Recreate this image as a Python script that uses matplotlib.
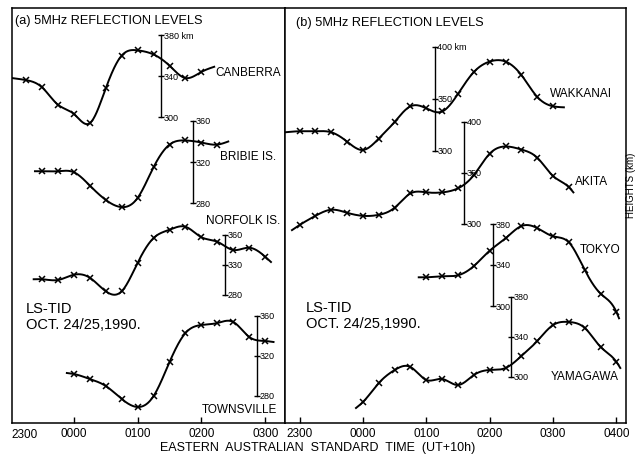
import numpy as np
import matplotlib
matplotlib.use('Agg')
import matplotlib.pyplot as plt

plt.rcParams['font.family'] = ['Liberation Sans', 'DejaVu Sans']

# times are hours after 0000 EAST (23:00 = -1)
# --- panel (a) ---
canberra_t = [-0.75, -0.5, -0.25, 0.0, 0.25, 0.5, 0.75, 1.0, 1.25, 1.5, 1.75, 2.0]
canberra_h = [336, 329, 312, 303, 294, 328, 360, 365, 361, 350, 338, 344]
canberra_ends = [(-0.97, 338), (2.2, 349)]

bribie_t = [-0.5, -0.25, 0.0, 0.25, 0.5, 0.75, 1.0, 1.25, 1.5, 1.75, 2.0, 2.25]
bribie_h = [311, 311, 310, 297, 283, 276, 285, 315, 337, 341, 339, 337]
bribie_ends = [(-0.61, 311), (2.42, 340)]

norfolk_t = [-0.5, -0.25, 0.0, 0.25, 0.5, 0.75, 1.0, 1.25, 1.5, 1.75, 2.0, 2.25, 2.5, 2.75, 3.0]
norfolk_h = [301, 300, 307, 303, 285, 285, 323, 356, 367, 371, 357, 351, 340, 343, 331]
norfolk_ends = [(-0.63, 301), (3.09, 324)]

townsville_t = [0.0, 0.25, 0.5, 0.75, 1.0, 1.25, 1.5, 1.75, 2.0, 2.25, 2.5, 2.75, 3.0]
townsville_h = [302, 297, 290, 277, 269, 280, 314, 343, 351, 353, 354, 339, 335]
townsville_ends = [(-0.11, 303), (3.13, 334)]

# --- panel (b) ---
wakkanai_t = [-1.0, -0.75, -0.5, -0.25, 0.0, 0.25, 0.5, 0.75, 1.0, 1.25, 1.5, 1.75, 2.0, 2.25, 2.5, 2.75, 3.0]
wakkanai_h = [319, 319, 318, 309, 301, 312, 328, 343, 341, 338, 355, 376, 386, 386, 373, 352, 343]
wakkanai_ends = [(-1.23, 318), (3.17, 342)]

akita_t = [-1.0, -0.75, -0.5, -0.25, 0.0, 0.25, 0.5, 0.75, 1.0, 1.25, 1.5, 1.75, 2.0, 2.25, 2.5, 2.75, 3.0, 3.25]
akita_h = [299, 308, 314, 311, 308, 309, 316, 330, 331, 331, 335, 348, 369, 376, 373, 365, 347, 336]
akita_ends = [(-1.12, 294), (3.32, 331)]

tokyo_t = [1.0, 1.25, 1.5, 1.75, 2.0, 2.25, 2.5, 2.75, 3.0, 3.25, 3.5, 3.75, 4.0]
tokyo_h = [328, 329, 330, 339, 354, 366, 378, 376, 368, 362, 335, 312, 294]
tokyo_ends = [(0.88, 328), (4.04, 288)]

yamagawa_t = [0.0, 0.25, 0.5, 0.75, 1.0, 1.25, 1.5, 1.75, 2.0, 2.25, 2.5, 2.75, 3.0, 3.25, 3.5, 3.75, 4.0]
yamagawa_h = [275, 294, 307, 310, 297, 298, 292, 302, 307, 309, 321, 336, 352, 355, 349, 330, 315]
yamagawa_ends = [(-0.11, 269), (4.06, 309)]

ticks_a = [0, 1, 2, 3]
ticklabels_a = ['0000', '0100', '0200', '0300']
ticks_b = [-1, 0, 1, 2, 3, 4]
ticklabels_b = ['2300', '0000', '0100', '0200', '0300', '0400']

W, H = 636, 456
BOT, TOP = 424, 9


def fx(x):
    return x / W


def fy(y):
    return 1 - y / H


def spline(x, y, n=500):
    # natural cubic spline through the points
    x = np.asarray(x, float)
    y = np.asarray(y, float)
    m = len(x)
    h = np.diff(x)
    A = np.zeros((m, m))
    r = np.zeros(m)
    A[0, 0] = A[-1, -1] = 1
    for i in range(1, m - 1):
        A[i, i - 1] = h[i - 1]
        A[i, i] = 2 * (h[i - 1] + h[i])
        A[i, i + 1] = h[i]
        r[i] = 6 * ((y[i + 1] - y[i]) / h[i] - (y[i] - y[i - 1]) / h[i - 1])
    M = np.linalg.solve(A, r)
    xs = np.linspace(x[0], x[-1], n)
    k = np.clip(np.searchsorted(x, xs) - 1, 0, m - 2)
    a = (x[k + 1] - xs) / h[k]
    b = (xs - x[k]) / h[k]
    ys = a * y[k] + b * y[k + 1] + ((a ** 3 - a) * M[k] + (b ** 3 - b) * M[k + 1]) * h[k] ** 2 / 6
    return xs, ys


fig = plt.figure(figsize=(W / 100, H / 100), dpi=100)
axa = fig.add_axes([fx(12), fy(BOT), fx(273), (BOT - TOP) / H])
axb = fig.add_axes([fx(285), fy(BOT), fx(341), (BOT - TOP) / H])
axa.set_xlim(-0.97, 3.31)
axb.set_xlim(-1.23, 4.15)

for ax, tk, tl in [(axa, ticks_a, ticklabels_a), (axb, ticks_b, ticklabels_b)]:
    ax.set_ylim(0, 1)
    ax.set_yticks([])
    ax.set_xticks(tk)
    ax.set_xticklabels(tl)
    ax.tick_params(axis='x', direction='in', length=4, width=1, labelsize=8.5, pad=3)
    for s in ax.spines.values():
        s.set_linewidth(1.1)
fig.text(fx(11), fy(435), '2300', fontsize=8.5, ha='left', va='center')


def station(ax, t, h, ends, bar_x, bar, labels, unit=False):
    (v_hi, p_hi), (v_lo, p_lo) = bar
    f_hi = (BOT - p_hi) / (BOT - TOP)
    f_lo = (BOT - p_lo) / (BOT - TOP)
    slope = (v_hi - v_lo) / (f_hi - f_lo)
    y0 = v_lo - f_lo * slope
    tw = ax.twinx()
    tw.set_ylim(y0, y0 + slope)
    tw.axis('off')
    xs, ys = spline([ends[0][0]] + t + [ends[1][0]], [ends[0][1]] + h + [ends[1][1]])
    tw.plot(xs, ys, color='black', lw=1.4)
    tw.plot(t, h, ls='none', marker='x', ms=4.5, mew=1.1, color='black')
    v_mid = (v_hi + v_lo) / 2
    tw.plot([bar_x, bar_x], [v_lo, v_hi], color='black', lw=1.0)
    tw.plot([bar_x] * 3, [v_lo, v_mid, v_hi], ls='none', marker='_', ms=5, mew=1.0, color='black')
    for v, lab in zip([v_hi, v_mid, v_lo], labels):
        if v == v_hi and unit:
            lab = lab + ' km'
        tw.annotate(lab, (bar_x, v), xytext=(2, 0), textcoords='offset points',
                    fontsize=6.5, va='center', ha='left')


station(axa, canberra_t, canberra_h, canberra_ends, 1.366, [(380, 36), (300, 118)], ['380', '340', '300'], True)
station(axa, bribie_t, bribie_h, bribie_ends, 1.87, [(360, 122), (280, 204)], ['360', '320', '280'])
station(axa, norfolk_t, norfolk_h, norfolk_ends, 2.37, [(360, 236), (280, 296)], ['360', '330', '280'])
station(axa, townsville_t, townsville_h, townsville_ends, 2.87, [(360, 317), (280, 397)], ['360', '320', '280'])
station(axb, wakkanai_t, wakkanai_h, wakkanai_ends, 1.13, [(400, 48), (300, 152)], ['400', '350', '300'], True)
station(axb, akita_t, akita_h, akita_ends, 1.59, [(400, 123), (300, 225)], ['400', '350', '300'])
station(axb, tokyo_t, tokyo_h, tokyo_ends, 2.05, [(380, 225), (300, 307)], ['380', '340', '300'])
station(axb, yamagawa_t, yamagawa_h, yamagawa_ends, 2.33, [(380, 298), (300, 378)], ['380', '340', '300'])

names = [('CANBERRA', 215, 73), ('BRIBIE IS.', 220, 157), ('NORFOLK IS.', 206, 221),
         ('TOWNSVILLE', 202, 410), ('WAKKANAI', 550, 94), ('AKITA', 575, 182),
         ('TOKYO', 580, 250), ('YAMAGAWA', 551, 377)]
for s, x, y in names:
    fig.text(fx(x), fy(y), s, fontsize=8.5, ha='left', va='center')

fig.text(fx(15), fy(21), '(a) 5MHz REFLECTION LEVELS', fontsize=9.2, ha='left', va='center')
fig.text(fx(296), fy(23), '(b) 5MHz REFLECTION LEVELS', fontsize=9.2, ha='left', va='center')
for x, y in [(26, 309), (306, 308)]:
    fig.text(fx(x), fy(y), 'LS-TID', fontsize=10.5, ha='left', va='center')
    fig.text(fx(x), fy(y + 16), 'OCT. 24/25,1990.', fontsize=10.5, ha='left', va='center')

fig.text(fx(318), fy(448), 'EASTERN  AUSTRALIAN  STANDARD  TIME  (UT+10h)', fontsize=9,
         ha='center', va='center')
fig.text(fx(631), fy(185), 'HEIGHTS (km)', fontsize=7, rotation=90, ha='center', va='center')

fig.savefig('out.png', dpi=100)
